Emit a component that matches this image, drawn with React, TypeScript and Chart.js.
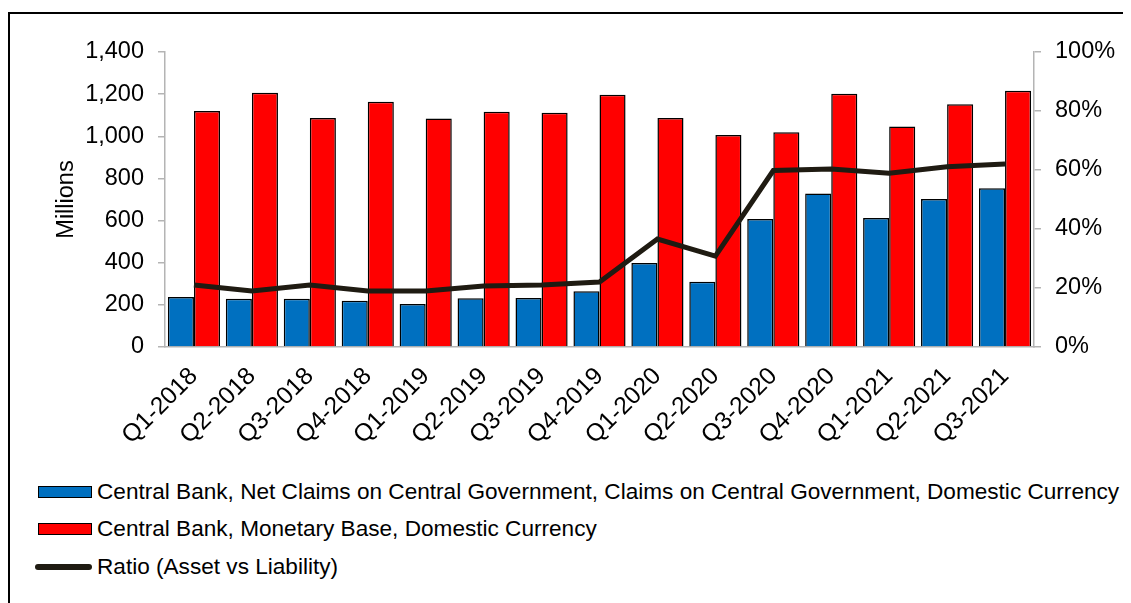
import React, { useEffect, useRef } from "react";
import { Chart, registerables } from "chart.js";

Chart.register(...registerables);

const categories = [
  "Q1-2018", "Q2-2018", "Q3-2018", "Q4-2018",
  "Q1-2019", "Q2-2019", "Q3-2019", "Q4-2019",
  "Q1-2020", "Q2-2020", "Q3-2020", "Q4-2020",
  "Q1-2021", "Q2-2021", "Q3-2021",
];

const netClaims = [237, 229, 229, 220, 204, 231, 232, 264, 399, 310, 607, 728, 612, 702, 753];
const monetaryBase = [1120, 1207, 1087, 1164, 1085, 1117, 1112, 1197, 1087, 1006, 1019, 1202, 1047, 1152, 1216];
const ratioPct = [21, 19, 21, 19, 19, 20.7, 21, 22, 36.6, 30.8, 59.8, 60.3, 58.9, 61.1, 62];

const leftTicks = [0, 200, 400, 600, 800, 1000, 1200, 1400];
const rightTicks = [0, 20, 40, 60, 80, 100];

const seriesNames = [
  "Central Bank, Net Claims on Central Government, Claims on Central Government, Domestic Currency",
  "Central Bank, Monetary Base, Domestic Currency",
  "Ratio (Asset vs Liability)",
];

const BLUE = "#0070C0";
const RED = "#FF0000";
const LINE = "#1f1b12";
const AXIS = "#b4b4b4";
const FONT = "'Liberation Sans', Arial, sans-serif";
const TICK_SIZE = 23.5;
const XTICK_SIZE = 24.5;
const LEGEND_SIZE = 22.6;

const CW = 1113;
const CH = 440;

export default function App() {
  const ref = useRef<HTMLCanvasElement | null>(null);

  useEffect(() => {
    if (!ref.current) return;
    const chart = new Chart(ref.current, {
      type: "bar",
      data: {
        labels: categories,
        datasets: [
          {
            type: "line",
            label: seriesNames[2],
            data: ratioPct,
            yAxisID: "y1",
            borderColor: LINE,
            backgroundColor: LINE,
            borderWidth: 5,
            pointRadius: 0,
            tension: 0,
            order: 0,
          } as any,
          {
            label: seriesNames[0],
            data: netClaims,
            yAxisID: "y",
            backgroundColor: BLUE,
            borderColor: "#000",
            borderWidth: 1.5,
            categoryPercentage: 0.9,
            barPercentage: 1.0,
            order: 1,
          },
          {
            label: seriesNames[1],
            data: monetaryBase,
            yAxisID: "y",
            backgroundColor: RED,
            borderColor: "#000",
            borderWidth: 1.5,
            categoryPercentage: 0.9,
            barPercentage: 1.0,
            order: 2,
          },
        ],
      },
      options: {
        animation: false,
        responsive: false,
        maintainAspectRatio: false,
        layout: { padding: { top: 38, left: 0, right: 0, bottom: 0 } },
        plugins: {
          legend: { display: false },
          tooltip: { enabled: false },
        },
        scales: {
          x: {
            grid: { display: false },
            border: { display: true, color: AXIS, width: 1.5 },
            ticks: {
              color: "#000",
              font: { family: FONT, size: XTICK_SIZE },
              minRotation: 45,
              maxRotation: 45,
              padding: 7,
            },
            afterFit: (s: any) => {
              s.height = CH - 333;
            },
          },
          y: {
            position: "left",
            min: 0,
            max: 1400,
            afterBuildTicks: (s: any) => {
              s.ticks = leftTicks.map((v) => ({ value: v }));
            },
            grid: { drawOnChartArea: false, drawTicks: true, tickLength: 7, color: AXIS, lineWidth: 1.5 },
            border: { display: true, color: AXIS, width: 1.5 },
            ticks: {
              color: "#000",
              font: { family: FONT, size: TICK_SIZE },
              padding: 14,
              callback: (v: any) => Number(v).toLocaleString("en-US"),
            },
            title: {
              display: true,
              text: "Millions",
              color: "#000",
              font: { family: FONT, size: TICK_SIZE },
              padding: { top: 42, bottom: 0 },
            },
            afterFit: (s: any) => {
              s.width = 155;
            },
          },
          y1: {
            position: "right",
            min: 0,
            max: 100,
            afterBuildTicks: (s: any) => {
              s.ticks = rightTicks.map((v) => ({ value: v }));
            },
            grid: { drawOnChartArea: false, drawTicks: true, tickLength: 7, color: AXIS, lineWidth: 1.5 },
            border: { display: true, color: AXIS, width: 1.5 },
            ticks: {
              color: "#000",
              font: { family: FONT, size: TICK_SIZE },
              padding: 14,
              callback: (v: any) => `${v}%`,
            },
            afterFit: (s: any) => {
              s.width = CW - 1024;
            },
          },
        },
      },
    });
    return () => chart.destroy();
  }, []);

  const rowCenters = [478, 515, 553];
  const swatch = (i: number) => {
    if (i === 2) {
      return (
        <span
          style={{
            display: "inline-block",
            width: 57,
            height: 6,
            borderRadius: 3,
            background: LINE,
            marginLeft: -3,
          }}
        />
      );
    }
    return (
      <span
        style={{
          display: "inline-block",
          width: 54,
          height: 12,
          boxSizing: "border-box",
          border: "1.5px solid #000",
          background: i === 0 ? BLUE : RED,
        }}
      />
    );
  };

  return (
    <div style={{ paddingTop: 4 }}>
      <div
        style={{
          position: "relative",
          borderTop: "2px solid #000",
          borderLeft: "2px solid #000",
          height: 600,
          width: CW,
        }}
      >
        <canvas ref={ref} width={CW} height={CH} style={{ display: "block", width: CW, height: CH }} />
        {seriesNames.map((name, i) => (
          <div
            key={name}
            style={{
              position: "absolute",
              left: 28,
              top: rowCenters[i] - 13,
              height: 26,
              display: "flex",
              alignItems: "center",
              whiteSpace: "nowrap",
              fontFamily: FONT,
              fontSize: LEGEND_SIZE,
              color: "#000",
            }}
          >
            {swatch(i)}
            <span style={{ marginLeft: 5 }}>{name}</span>
          </div>
        ))}
      </div>
    </div>
  );
}
